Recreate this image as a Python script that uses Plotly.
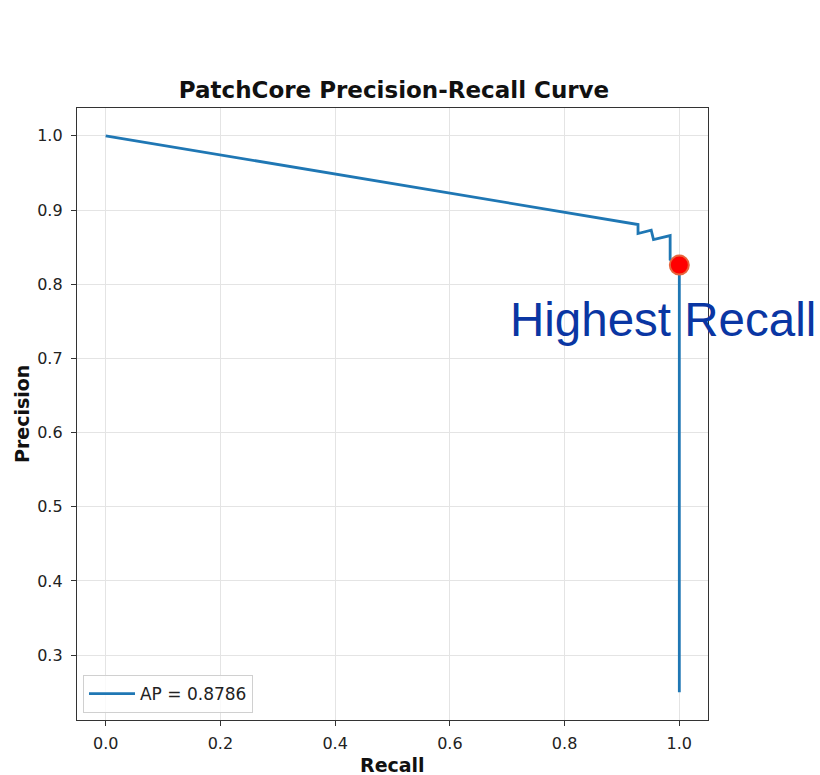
import plotly.graph_objects as go

# Precision-recall curve points (recall, precision)
recall = [0.0, 0.928, 0.928, 0.951, 0.955, 0.984, 0.984, 1.0, 1.0]
precision = [1.0, 0.8804, 0.8683, 0.8727, 0.8600, 0.8656, 0.8333, 0.8257, 0.25]

ap_value = 0.8786

# Point of highest recall
best_recall = [1.0]
best_precision = [0.8257]

x_ticks = [0.0, 0.2, 0.4, 0.6, 0.8, 1.0]
y_ticks = [0.3, 0.4, 0.5, 0.6, 0.7, 0.8, 0.9, 1.0]

fig = go.Figure()

fig.add_trace(go.Scatter(
    x=recall, y=precision, mode="lines",
    line=dict(color="#1f77b4", width=2.8),
    name=f"AP = {ap_value:.4f}",
))

fig.add_trace(go.Scatter(
    x=best_recall, y=best_precision, mode="markers",
    marker=dict(color="#ff0000", size=19, line=dict(color="#e8643c", width=2)),
    showlegend=False,
))

fig.add_annotation(
    x=0.971, y=0.752, xref="x", yref="y",
    text="Highest Recall", showarrow=False,
    font=dict(family="Liberation Sans, Arial", size=47.5, color="#0a36a3"),
    xanchor="center", yanchor="middle",
)

# Axis titles placed as annotations so the plot area keeps its fixed margins
label_font = dict(family="DejaVu Sans", size=19, color="#111111")
fig.add_annotation(
    x=0.5, y=-0.0545, xref="paper", yref="paper",
    text="<b>Recall</b>", showarrow=False, font=label_font,
    xanchor="center", yanchor="top", borderpad=0,
)
fig.add_annotation(
    x=-0.0872, y=0.5, xref="paper", yref="paper",
    text="<b>Precision</b>", showarrow=False, font=label_font,
    textangle=-90, xanchor="center", yanchor="middle",
)

axis_common = dict(
    showgrid=True, gridcolor="#e4e4e4", gridwidth=1,
    showline=True, linecolor="#333333", linewidth=1.3, mirror=True,
    ticks="outside", ticklen=5, tickwidth=1, tickcolor="#333333",
    zeroline=False, automargin=False,
    tickfont=dict(family="DejaVu Sans", size=16, color="#222222"),
)

fig.update_layout(
    width=820, height=775,
    margin=dict(l=77, r=112, t=108, b=55),
    paper_bgcolor="white", plot_bgcolor="white",
    title=dict(
        text="<b>PatchCore Precision-Recall Curve</b>",
        x=394 / 820, xanchor="center",
        y=1 - 90 / 775, yanchor="middle", yref="container",
        font=dict(family="DejaVu Sans", size=23, color="#111111"),
    ),
    xaxis=dict(
        axis_common, range=[-0.05, 1.05], tickvals=x_ticks,
        ticktext=[f"{v:.1f}" for v in x_ticks], ticklabelstandoff=4,
    ),
    yaxis=dict(
        axis_common, range=[0.2125, 1.0375], tickvals=y_ticks,
        ticktext=[f"{v:.1f}" for v in y_ticks], ticklabelstandoff=5,
    ),
    legend=dict(
        x=0.0095, y=0.0114, xanchor="left", yanchor="bottom",
        bgcolor="rgba(255,255,255,0.8)", bordercolor="#d0d0d0", borderwidth=1,
        itemwidth=46,
        font=dict(family="DejaVu Sans", size=17, color="#222222"),
    ),
)

fig.write_html("out.html")
